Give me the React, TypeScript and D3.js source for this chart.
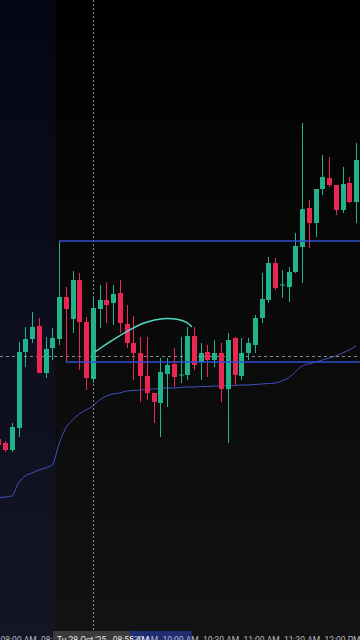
import React from "react";
import * as d3 from "d3";

// candle index -1 .. 52, 5-minute bars starting 07:45 AM
const firstIndex = -1;
const opens = [6790.25, 6789.25, 6787.5, 6793, 6812, 6815.25, 6818.5, 6806.75, 6813, 6815.25, 6825.75, 6820.25, 6830, 6819.5, 6805.25, 6822.75, 6825, 6824.25, 6826.75, 6819, 6814.25, 6811.75, 6806, 6801.75, 6799.25, 6806.5, 6809, 6806.125, 6806.25, 6816, 6809.5, 6812, 6810, 6811.75, 6802.75, 6815.5, 6806, 6811.75, 6813.75, 6820.5, 6825, 6834.25, 6828.625, 6828.25, 6832, 6838.25, 6848, 6844.25, 6852.75, 6855.5, 6853.75, 6847.5, 6854.25, 6849.5];
const highs = [6790.75, 6789.75, 6794.25, 6814.5, 6818.25, 6822, 6820.5, 6815.75, 6818, 6839.75, 6828.25, 6832.25, 6831.75, 6820.75, 6825.75, 6828.75, 6829.5, 6828.75, 6830, 6823.75, 6821, 6815.75, 6815.75, 6801.75, 6810.5, 6810.5, 6813, 6815.75, 6818.25, 6818.25, 6814.25, 6813.75, 6815, 6814.25, 6816.75, 6815.75, 6815.5, 6815.5, 6821.25, 6831.75, 6835.75, 6835.5, 6832.5, 6833.25, 6841.75, 6869.25, 6850, 6852.75, 6861.25, 6860.75, 6853.75, 6858.25, 6855.75, 6864.25];
const lows = [6788.25, 6787, 6787, 6790.75, 6808.25, 6814.25, 6806.75, 6805.5, 6810, 6813.75, 6809.5, 6816.75, 6807.5, 6802.5, 6804.25, 6818, 6819.25, 6818.75, 6816.75, 6813, 6805, 6799.5, 6800, 6794.25, 6790.75, 6798.25, 6803.25, 6804.25, 6805, 6807.5, 6805, 6805.75, 6808.25, 6799.5, 6789.25, 6803.75, 6805, 6810, 6811.75, 6819.25, 6824.25, 6827.5, 6825.5, 6824.5, 6831.75, 6829.25, 6838, 6840.75, 6851.25, 6853.25, 6846.25, 6846.75, 6849.25, 6844.25];
const closes = [6788.75, 6787.5, 6793.25, 6812, 6815.25, 6818.25, 6806.75, 6812.75, 6815.5, 6825.75, 6822.75, 6830, 6819.5, 6805.5, 6823, 6825, 6823.75, 6826.5, 6819.25, 6814.25, 6811.75, 6806, 6801.75, 6799.5, 6807, 6808.75, 6805.75, 6806.375, 6816, 6808.75, 6811.75, 6810, 6811.75, 6802.75, 6815, 6806.25, 6811.75, 6814.25, 6820.5, 6825.25, 6834.25, 6828, 6828.875, 6832, 6838.5, 6847.75, 6844.25, 6852.75, 6855.75, 6853.75, 6847.5, 6854, 6849.5, 6860];
const vwap = [6775.5, 6775.75, 6776, 6779.25, 6781, 6781.75, 6782.5, 6783, 6783.75, 6789, 6793, 6795, 6796.5, 6797.5, 6798.5, 6800, 6801, 6801.5, 6801.75, 6802.25, 6802.375, 6802.5, 6802.625, 6802.75, 6802.875, 6803, 6803, 6803.125, 6803.25, 6803.25, 6803.375, 6803.375, 6803.5, 6803.5, 6803.625, 6803.625, 6803.75, 6803.75, 6803.875, 6804, 6804.125, 6804.25, 6804.75, 6805.5, 6807, 6808.5, 6809, 6809.5, 6810, 6810.5, 6811, 6811.75, 6812.5, 6813.5];

// drawings
const arcIdx = [13.3, 15.5, 18.2, 21, 23.4, 25.6, 27, 27.7];
const arcPrice = [6812, 6814.5, 6817.4, 6819.7, 6820.5, 6820.25, 6819.5, 6818.25];
const rayStartIdx = [8, 9];
const rayPrice = [6839.75, 6809.5];
const sessionStartIdx = 8; // 08:30 AM regular session
const crossIdx = 13;
const crossPrice = 6811;
const crossLabel = "Tu 28 Oct '25   08:55 AM";

// time axis
const tickIdx = [2, 8, 14, 20, 26, 32, 38, 44, 50];
const tickLabels = ["08:00 AM", "08:30 AM", "09:00 AM", "09:30 AM", "10:00 AM", "10:30 AM", "11:00 AM", "11:30 AM", "12:00 PM"];

const W = 360;
const H = 640;
const UP = "#22b38c";
const DOWN = "#ea2753";

export default function App() {
  const x = d3.scaleLinear().domain([0, 52]).range([5, 356]);
  const y = d3.scaleLinear().domain([6900, 6740]).range([0, 640]);
  const step = x(1) - x(0);
  const bodyW = 5;

  const candles = opens.map((o, k) => ({
    i: k + firstIndex,
    o,
    h: highs[k],
    l: lows[k],
    c: closes[k],
  }));

  const vwapLine = d3
    .line<number>()
    .x((_, k) => x(k + firstIndex))
    .y((v) => y(v))
    .curve(d3.curveMonotoneX)(vwap);

  const arcLine = d3
    .line<number>()
    .x((_, k) => x(arcIdx[k]))
    .y((v) => y(v))
    .curve(d3.curveBasis)(arcPrice);

  const shadeRight = x(sessionStartIdx) - step / 2;
  const cx = Math.round(x(crossIdx)) + 0.5;
  const cy = Math.round(y(crossPrice)) + 0.5;
  const font = "Roboto, 'Noto Sans', sans-serif";

  return (
    <svg
      width={W}
      height={H}
      style={{ position: "absolute", left: 0, top: 0, display: "block" }}
    >
      <defs>
        <linearGradient id="bg" x1="0" y1="0" x2="0" y2="1">
          <stop offset="0" stopColor="#000000" />
          <stop offset="1" stopColor="#131313" />
        </linearGradient>
      </defs>
      <rect x={0} y={0} width={W} height={H} fill="url(#bg)" />
      <rect x={0} y={0} width={shadeRight} height={H} fill="#1c2878" opacity={0.18} />

      {/* VWAP */}
      <path d={vwapLine || ""} fill="none" stroke="#4152c2" strokeWidth={1} />

      {/* crosshair */}
      <line x1={cx} x2={cx} y1={0} y2={630} stroke="#8a8a8a" strokeWidth={1} strokeDasharray="2,2" />
      <line x1={0} x2={W} y1={cy} y2={cy} stroke="#8a8a8a" strokeWidth={1} strokeDasharray="3,3" />

      {/* candles */}
      {candles.map((d) => {
        const up = d.c >= d.o;
        const col = up ? UP : DOWN;
        const xc = Math.round(x(d.i));
        const top = y(Math.max(d.o, d.c));
        const bot = y(Math.min(d.o, d.c));
        return (
          <g key={d.i}>
            <line x1={xc + 0.5} x2={xc + 0.5} y1={y(d.h)} y2={y(d.l)} stroke={col} strokeWidth={1} />
            <rect x={xc + 0.5 - bodyW / 2} y={top} width={bodyW} height={Math.max(1, bot - top)} fill={col} />
          </g>
        );
      })}

      {/* horizontal rays */}
      {rayPrice.map((p, k) => (
        <line
          key={k}
          x1={x(rayStartIdx[k])}
          x2={W}
          y1={y(p)}
          y2={y(p)}
          stroke="#2f4fd0"
          strokeWidth={1.6}
        />
      ))}

      {/* curve drawing */}
      <path d={arcLine || ""} fill="none" stroke="#52d6c4" strokeWidth={1.5} />

      {/* time axis */}
      <rect x={x(arcIdx[0])} y={631} width={x(arcIdx[arcIdx.length - 1]) - x(arcIdx[0])} height={20} fill="#1f2e73" />
      {tickIdx.map((t, k) => (
        <text
          key={t}
          x={x(t)}
          y={643}
          textAnchor="middle"
          fontFamily={font}
          fontSize={8.5}
          fill="#b4b6bd"
        >
          {tickLabels[k]}
        </text>
      ))}
      <rect x={53} y={631} width={77} height={20} fill="#3b3b3b" />
      <text x={57} y={643} fontFamily={font} fontSize={8.5} fill="#e6e6e6" xmlSpace="preserve">
        {crossLabel}
      </text>
    </svg>
  );
}
